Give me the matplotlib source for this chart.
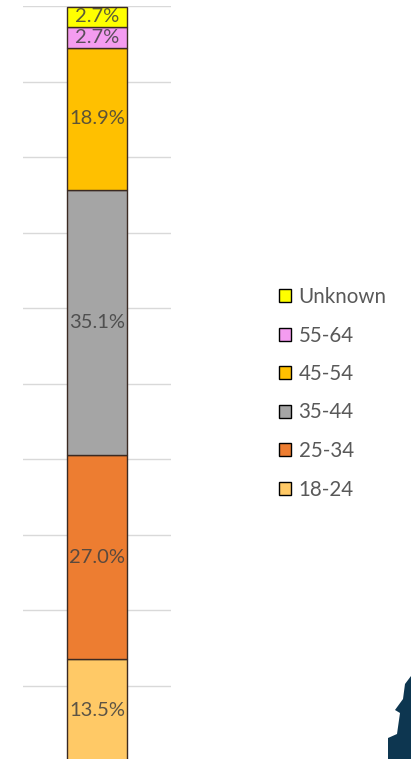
import matplotlib.pyplot as plt
from matplotlib.patches import Polygon

# age group shares (%), bottom to top
groups = ["18-24", "25-34", "35-44", "45-54", "55-64", "Unknown"]
shares = [13.5, 27.0, 35.1, 18.9, 2.7, 2.7]
colours = ["#FFC966", "#ED7D31", "#A5A5A5", "#FFC000", "#F49CF0", "#FFFF00"]

W, H = 411, 759
fig = plt.figure(figsize=(W / 100, H / 100), dpi=100)
# axes extends a bit past the bottom of the picture (cropped chart)
ax = fig.add_axes([23 / W, (H - 761) / H, 148 / W, 755 / H])

bars = []
bottom = 0
for g, v, c in zip(groups, shares, colours):
    b = ax.bar(0, v, width=0.4, bottom=bottom, color=c, edgecolor="#3b2a22",
               linewidth=1.0, label=g, zorder=3)
    ax.text(0, bottom + v / 2, "{:.1f}%".format(v), ha="center", va="center",
            fontsize=14.5, family="Lato", color="#404040", alpha=0.85, zorder=4)
    bars.append(b)
    bottom += v

ax.set_xlim(-0.5, 0.5)
ax.set_ylim(0, 100)
ax.set_yticks(range(0, 101, 10))
ax.yaxis.grid(True, color="#d9d9d9", linewidth=1.0, zorder=0)
ax.set_xticks([])
ax.tick_params(left=False, labelleft=False)
for s in ax.spines.values():
    s.set_visible(False)

leg = fig.legend(bars[::-1], groups[::-1], loc="upper left",
                 bbox_to_anchor=(279 / W, 1 - 287 / H), frameon=False,
                 prop={"family": "Lato", "size": 14.8}, labelcolor="#595959",
                 handlelength=0.6, handleheight=0.6, handletextpad=0.35,
                 labelspacing=0.9, borderpad=0, borderaxespad=0)
for h in leg.legend_handles:
    h.set_edgecolor("black")
    h.set_linewidth(1.0)

# corner logo fragment
logo = [(411, 676), (405, 684), (403, 699), (395, 710), (400, 713),
        (397, 734), (388, 738), (388, 759), (411, 759)]
fig.patches.append(Polygon([(x / W, 1 - y / H) for x, y in logo],
                           closed=True, transform=fig.transFigure,
                           facecolor="#0d3650", edgecolor="none"))

fig.savefig("out.png", dpi=100)
